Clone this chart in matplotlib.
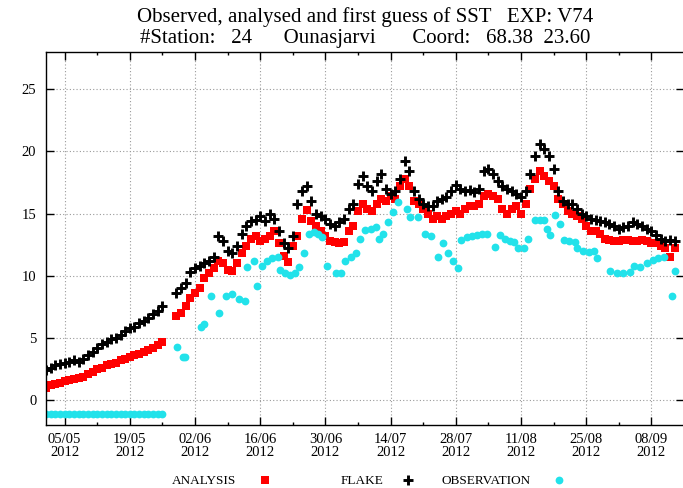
import numpy as np
import matplotlib
matplotlib.use('Agg')
import matplotlib.pyplot as plt
import matplotlib.dates as mdates

plt.rcParams['font.family'] = 'Liberation Serif'

nan = np.nan
start = np.datetime64('2012-05-01T00:00')

# daily values from 01/05/2012
analysis = [
    1.0, 1.2, 1.3, 1.4, 1.5, 1.6, 1.7, 1.8, 1.9, 2.1,
    2.3, 2.5, 2.6, 2.8, 2.9, 3.0, 3.2, 3.3, 3.5, 3.6,
    3.7, 3.9, 4.0, 4.2, 4.4, 4.7, nan, nan, 6.8, 7.0,
    7.6, 8.2, 8.6, 9.0, 9.8, 10.2, 10.6, 11.2, 11.0, 10.5,
    10.4, 11.0, 11.8, 12.4, 13.0, 13.2, 12.8, 13.0, 13.2, 13.6,
    12.6, 11.6, 11.1, 12.4, 13.2, 14.6, 15.3, 14.4, 14.0, 13.6,
    13.2, 12.8, 12.7, 12.6, 12.7, 13.6, 14.0, 15.2, 15.8, 15.4,
    15.2, 15.8, 16.2, 16.0, 16.4, 16.2, 17.2, 17.8, 17.2, 16.0,
    15.8, 15.4, 15.0, 14.6, 14.8, 14.6, 14.8, 15.0, 15.2, 15.0,
    15.4, 15.6, 15.6, 15.8, 16.4, 16.6, 16.4, 16.2, 15.4, 15.0,
    15.4, 15.6, 15.0, 15.8, 17.0, 17.8, 18.4, 18.0, 17.6, 17.2,
    16.2, 15.8, 15.2, 15.0, 14.8, 14.6, 14.0, 13.6, 13.6, 13.4,
    13.0, 12.9, 12.8, 12.8, 12.9, 12.9, 12.8, 12.8, 12.9, 12.8,
    12.6, 12.6, 12.4, 12.2, 11.5, 12.2]

flake = [
    2.4, 2.6, 2.8, 2.9, 3.0, 3.1, 3.2, 3.1, 3.3, 3.6,
    3.9, 4.2, 4.5, 4.7, 4.9, 5.0, 5.2, 5.6, 5.8, 5.9,
    6.2, 6.4, 6.6, 6.9, 7.2, 7.6, nan, nan, 8.6, 9.0,
    9.4, 10.3, 10.6, 10.8, 11.0, 11.2, 11.5, 13.2, 12.8, 12.0,
    11.8, 12.4, 13.4, 14.0, 14.4, 14.5, 14.8, 14.4, 15.0, 14.6,
    13.6, 12.6, 12.2, 13.2, 15.8, 16.8, 17.2, 16.0, 15.0, 14.8,
    14.6, 14.2, 14.0, 14.3, 14.6, 15.4, 15.8, 17.4, 18.0, 17.2,
    16.8, 17.6, 18.2, 17.0, 16.6, 16.8, 17.8, 19.2, 18.4, 16.8,
    16.2, 15.8, 15.6, 15.6, 16.0, 16.2, 16.3, 16.8, 17.3, 17.0,
    16.8, 16.9, 16.7, 17.0, 18.4, 18.6, 18.2, 17.6, 17.2, 17.0,
    16.8, 16.6, 16.3, 16.8, 18.2, 19.6, 20.6, 20.2, 19.6, 18.6,
    16.8, 16.0, 15.8, 15.8, 15.4, 15.0, 14.8, 14.6, 14.5, 14.4,
    14.3, 14.2, 14.0, 13.8, 13.9, 14.0, 14.3, 14.2, 14.0, 13.8,
    13.6, 13.3, 13.0, 12.8, 12.9, 12.8]

# observations: day offset from 01/05/2012 and value
obs_day = [
    0, 1, 2, 3, 4, 5, 6, 7, 8, 9, 10, 11, 12, 13, 14, 15, 16, 17, 18, 19,
    20, 21, 22, 23, 24, 25,
    28.2, 29.4, 29.9, 33.3, 34.0, 35.5, 37.2, 38.7, 39.9, 41.5,
    42.8, 43.2, 44.7, 45.3, 46.4, 47.5, 48.6, 49.8, 50.2, 51.3,
    52.4, 53.5, 54.3, 55.3, 56.4, 57.5, 58.4, 59.2, 60.3, 62.2,
    63.3, 64.3, 65.4, 66.5, 67.5, 68.6, 69.7, 70.8, 71.4, 72.4,
    73.5, 74.6, 75.6, 77.6, 78.2, 79.9, 81.4, 82.7, 84.2, 85.3,
    86.3, 87.4, 88.5, 89.2, 90.3, 91.4, 92.5, 93.6, 94.7, 96.4,
    97.4, 98.5, 99.6, 100.6, 101.4, 102.6, 103.4, 105.0, 106.0, 107.0,
    107.6, 108.3, 109.2, 110.3, 111.3, 112.4, 113.5, 114.1, 115.3, 116.5,
    117.7, 118.4, 121.2, 122.6, 124.0, 125.4, 126.3, 127.6, 129.0, 130.3,
    131.5, 132.7, 134.4, 135.0]
obs_val = [
    -1.1, -1.1, -1.1, -1.1, -1.1, -1.1, -1.1, -1.1, -1.1, -1.1,
    -1.1, -1.1, -1.1, -1.1, -1.1, -1.1, -1.1, -1.1, -1.1, -1.1,
    -1.1, -1.1, -1.1, -1.1, -1.1, -1.1,
    4.3, 3.5, 3.5, 5.9, 6.1, 8.4, 7.0, 8.4, 8.5, 8.1,
    8.0, 10.7, 11.2, 9.2, 10.8, 11.2, 11.4, 11.5, 10.5, 10.2,
    10.1, 10.2, 10.7, 11.8, 13.4, 13.5, 13.4, 13.1, 10.8, 10.2,
    10.2, 11.2, 11.5, 11.8, 13.0, 13.7, 13.8, 13.9, 13.0, 13.4,
    14.3, 15.1, 15.9, 15.4, 14.7, 14.7, 13.4, 13.2, 11.5, 12.6,
    11.8, 11.2, 10.6, 12.9, 13.1, 13.2, 13.3, 13.4, 13.4, 12.3,
    13.3, 13.0, 12.8, 12.7, 12.2, 12.2, 13.0, 14.5, 14.5, 14.5,
    13.8, 13.3, 14.9, 14.2, 12.9, 12.8, 12.7, 12.2, 12.0, 11.9,
    12.0, 11.4, 10.4, 10.2, 10.2, 10.3, 10.8, 10.7, 11.0, 11.3,
    11.4, 11.5, 8.4, 10.4]

dates = start + np.arange(len(analysis)) * np.timedelta64(1, 'D')
obs_dates = start + np.round(np.array(obs_day) * 1440).astype(int) * np.timedelta64(1, 'm')

cyan = '#22e2ea'

fig = plt.figure(figsize=(6.83, 4.88), dpi=100)
ax = fig.add_axes([46/683, 63/488, 638/683, 373/488])

h1, = ax.plot(dates, analysis, 's', color='red', ms=5.4, mew=0, label='ANALYSIS')
h2, = ax.plot(dates, flake, '+', color='black', ms=6.5, mew=2.1, label='FLAKE')
h3, = ax.plot(obs_dates, obs_val, 'o', color=cyan, ms=5.6, mew=0, label='OBSERVATION')

ax.set_xlim(start, start + np.timedelta64(int(136.6 * 24), 'h'))
ax.set_ylim(-2, 28)
ax.set_yticks([0, 5, 10, 15, 20, 25])

major = np.datetime64('2012-05-05') + np.arange(10) * np.timedelta64(14, 'D')
minor = np.datetime64('2012-05-12') + np.arange(10) * np.timedelta64(14, 'D')
ax.set_xticks(major)
ax.set_xticks(minor, minor=True)
ax.xaxis.set_major_formatter(mdates.DateFormatter('%d/%m\n%Y'))

ax.tick_params(which='both', direction='in', top=True, right=True, width=1, colors='black')
ax.tick_params(which='major', length=5.5, labelsize=10.5, pad=6)
ax.tick_params(which='minor', length=2.5)
ax.tick_params(axis='y', pad=7)
for lab in ax.get_xticklabels():
    lab.set_linespacing(0.95)

ax.grid(True, which='major', linestyle=(0, (1, 2)), color='#9a9a9a', linewidth=0.8)
for s in ax.spines.values():
    s.set_linewidth(1)
    s.set_color('black')

cx = (46 + 684) / 2 / 683
fig.text(cx, 1 - 17/488, 'Observed, analysed and first guess of SST   EXP: V74',
         ha='center', va='center', fontsize=15)
fig.text(cx, 1 - 38/488, '#Station:   24      Ounasjarvi       Coord:   68.38  23.60',
         ha='center', va='center', fontsize=15)

ly = 1 - 481/488
items = [(h1, 'ANALYSIS', 272, 1.7), (h2, 'FLAKE', 415, 1.4), (h3, 'OBSERVATION', 566, 1.7)]
for i, (h, name, xr, pad) in enumerate(items):
    leg = ax.legend(handles=[h], labels=[name], loc='center right',
                    bbox_to_anchor=(xr/683, ly), bbox_transform=fig.transFigure,
                    frameon=False, markerfirst=False, handlelength=1.0,
                    handletextpad=pad, borderpad=0, borderaxespad=0, fontsize=9.5)
    if i < len(items) - 1:
        ax.add_artist(leg)

fig.savefig('out.png', dpi=100)
